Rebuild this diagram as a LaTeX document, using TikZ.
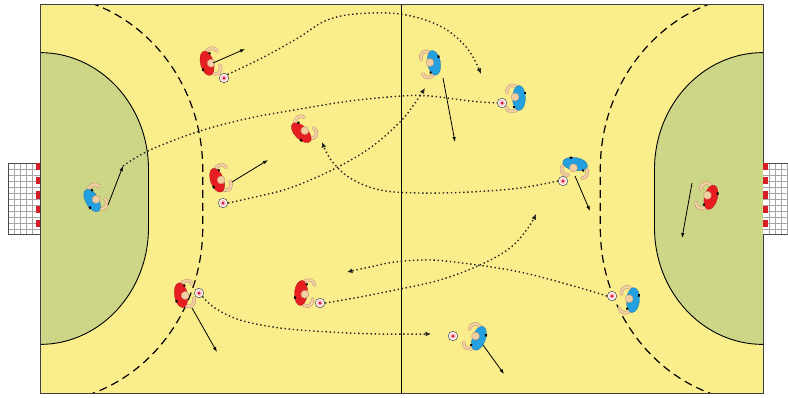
\documentclass[tikz,border=0pt]{standalone}
\usetikzlibrary{arrows.meta}

\definecolor{court}{RGB}{250,237,140}
\definecolor{goalarea}{RGB}{204,214,134}
\definecolor{shirtred}{RGB}{230,30,34}
\definecolor{shirtblue}{RGB}{36,160,222}
\definecolor{skin}{RGB}{242,206,164}
\definecolor{skinline}{RGB}{196,152,110}
\definecolor{postred}{RGB}{214,30,40}
\definecolor{balldot}{RGB}{200,20,70}

\tikzset{
  kit/.code={\colorlet{kitcol}{#1}},
  % top view of a player facing +x
  pics/player/.style={code={
    \draw[skinline, line width=3.4pt, line cap=round] (-1,9) .. controls (6,16) and (12,12) .. (11,5);
    \draw[skin, line width=2.4pt, line cap=round] (-1,9) .. controls (6,16) and (12,12) .. (11,5);
    \draw[skinline, line width=3.4pt, line cap=round] (-1,-9) .. controls (4,-16) and (11,-14) .. (12,-9);
    \draw[skin, line width=2.4pt, line cap=round] (-1,-9) .. controls (4,-16) and (11,-14) .. (12,-9);
    \fill[kitcol, draw=kitcol!75!black, line width=0.3pt] (-1,0) ellipse [x radius=6.5, y radius=12.5];
    \fill[black] (-7.5,4) rectangle (-5.5,6.5);
    \fill[black] (3,-10) rectangle (5,-8);
    \fill[skin, draw=skinline, line width=0.4pt] (3,1) circle [radius=4];
  }},
  ball/.style={circle, minimum size=9.5pt, inner sep=0pt, draw=black!75, line width=0.5pt, fill=white,
    path picture={
      \fill[pink] (path picture bounding box.center) circle [radius=3pt];
      \fill[balldot] (path picture bounding box.center) circle [radius=1.5pt];}},
  pass/.style={black!85, line width=1.4pt, dash pattern=on 1.4pt off 2.7pt,
    -{Latex[length=5.5pt,width=5pt]}},
  passplain/.style={black!85, line width=1.4pt, dash pattern=on 1.4pt off 2.7pt},
  run/.style={black, line width=0.8pt, -{Latex[length=5pt,width=3.5pt]}},
  nineline/.style={black, line width=1.2pt, dash pattern=on 8pt off 5pt},
  netline/.style={gray!70, line width=0.4pt},
}

\begin{document}
\begin{tikzpicture}[x=1pt, y=-1pt]
  \useasboundingbox (0,0) rectangle (788,397);

  % playing surface
  \fill[court] (40,4) rectangle (763,393);

  % goal areas
  \fill[goalarea] (40,52.6) arc[start angle=-90, end angle=0, x radius=108.5, y radius=116.7]
    -- (148.5,227.7) arc[start angle=0, end angle=90, x radius=108.5, y radius=116.7] -- cycle;
  \draw[black, line width=0.9pt] (40,52.6) arc[start angle=-90, end angle=0, x radius=108.5, y radius=116.7]
    -- (148.5,227.7) arc[start angle=0, end angle=90, x radius=108.5, y radius=116.7];
  \fill[goalarea] (763,52.6) arc[start angle=-90, end angle=-180, x radius=108.5, y radius=116.7]
    -- (654.5,227.7) arc[start angle=180, end angle=90, x radius=108.5, y radius=116.7] -- cycle;
  \draw[black, line width=0.9pt] (763,52.6) arc[start angle=-90, end angle=-180, x radius=108.5, y radius=116.7]
    -- (654.5,227.7) arc[start angle=180, end angle=90, x radius=108.5, y radius=116.7];

  % free-throw lines
  \begin{scope}
    \clip (40,4) rectangle (763,393);
    \draw[nineline] (40,-5.7) arc[start angle=-90, end angle=0, x radius=162.7, y radius=175]
      -- (202.7,227.7) arc[start angle=0, end angle=90, x radius=162.7, y radius=175];
    \draw[nineline] (763,-5.7) arc[start angle=-90, end angle=-180, x radius=162.7, y radius=175]
      -- (600.3,227.7) arc[start angle=180, end angle=90, x radius=162.7, y radius=175];
  \end{scope}

  % centre line and boundary
  \draw[black, line width=0.8pt] (401.5,4) -- (401.5,393);
  \draw[black!75, line width=1pt] (40,4) rectangle (763,393);

  % goals
  \fill[white] (8,163) rectangle (40,234);
  \foreach \x in {14,20,26,32} \draw[netline] (\x,163) -- (\x,234);
  \foreach \y in {169,175,...,229} \draw[netline] (8,\y) -- (40,\y);
  \draw[black!70, line width=0.6pt] (40,163) -- (8,163) -- (8,234) -- (40,234);
  \foreach \k in {0,2,...,8} \fill[postred] (35.5,163+7.1*\k) rectangle (40,170.1+7.1*\k);

  \fill[white] (763,163) rectangle (790,234);
  \foreach \x in {769,775,781,787} \draw[netline] (\x,163) -- (\x,234);
  \foreach \y in {169,175,...,229} \draw[netline] (763,\y) -- (790,\y);
  \draw[black!70, line width=0.6pt] (763,163) -- (790,163) (763,234) -- (790,234);
  \foreach \k in {0,2,...,8} \fill[postred] (763,163+7.1*\k) rectangle (767.5,170.1+7.1*\k);

  % players
  \coordinate (r1) at (208,63);
  \coordinate (r2) at (302,132);
  \coordinate (r3) at (218,180);
  \coordinate (r4) at (182,295);
  \coordinate (r5) at (302,293);
  \coordinate (r6) at (710,197);
  \coordinate (b1) at (93,200);
  \coordinate (b2) at (433,63);
  \coordinate (b3) at (518,98);
  \coordinate (b4) at (575,165);
  \coordinate (b5) at (632,300);
  \coordinate (b6) at (478,338);

  \pic[kit=shirtred, rotate=15] at (r1) {player};
  \pic[kit=shirtred, rotate=45] at (r2) {player};
  \pic[kit=shirtred, rotate=20] at (r3) {player};
  \pic[kit=shirtred, rotate=10] at (r4) {player};
  \pic[kit=shirtred, rotate=-5] at (r5) {player};
  \pic[kit=shirtred, rotate=165] at (r6) {player};
  \pic[kit=shirtblue, rotate=30] at (b1) {player};
  \pic[kit=shirtblue, rotate=190] at (b2) {player};
  \pic[kit=shirtblue, rotate=180] at (b3) {player};
  \pic[kit=shirtblue, rotate=-100] at (b4) {player};
  \pic[kit=shirtblue, rotate=175] at (b5) {player};
  \pic[kit=shirtblue, rotate=160] at (b6) {player};

  % balls
  \node[ball] (ball-r1) at (224,78) {};
  \node[ball] (ball-r3) at (223,203) {};
  \node[ball] (ball-r4) at (199,293) {};
  \node[ball] (ball-r5) at (320,303) {};
  \node[ball] (ball-b3) at (502,103) {};
  \node[ball] (ball-b4) at (563,181) {};
  \node[ball] (ball-b5) at (612,296) {};
  \node[ball] (ball-b6) at (453,336) {};

  % targets of passes and runs
  \coordinate (t1) at (481,74);
  \coordinate (gk) at (123,166);
  \coordinate (t3) at (425,88);
  \coordinate (t4) at (322,142);
  \coordinate (t5) at (431,334);
  \coordinate (t6) at (536,214);
  \coordinate (t7) at (347,272);

  % passes
  \draw[pass] plot[smooth, tension=0.6] coordinates
    {(ball-r1.north east) (262,58) (298,38) (325,21) (355,14) (400,14) (440,26) (467,48) (t1)};
  \draw[passplain] plot[smooth, tension=0.6] coordinates
    {(gk) (150,150) (200,131) (250,118) (300,109) (350,101) (402,96) (430,96) (470,101) (ball-b3.west)};
  \draw[pass] plot[smooth, tension=0.6] coordinates
    {(ball-r3.east) (255,197) (290,188) (332,170) (370,148) (400,122) (415,103) (t3)};
  \draw[pass] plot[smooth, tension=0.6] coordinates
    {(ball-b4.west) (520,188) (470,192) (420,193) (380,190) (350,178) (331,160) (t4)};
  \draw[pass] plot[smooth, tension=0.6] coordinates
    {(ball-r4.south east) (215,308) (240,320) (280,328) (330,332) (380,334) (t5)};
  \draw[pass] plot[smooth, tension=0.6] coordinates
    {(ball-r5.east) (360,297) (400,289) (440,280) (480,265) (510,248) (528,228) (t6)};
  \draw[pass] plot[smooth, tension=0.6] coordinates
    {(ball-b5.west) (570,285) (520,272) (470,264) (430,260) (395,262) (370,267) (t7)};

  % runs
  \coordinate (s-r1) at (213,63);   \coordinate (e-r1) at (245,49);
  \coordinate (s-r3) at (232,182);  \coordinate (e-r3) at (268,160);
  \coordinate (s-r4) at (192,308);  \coordinate (e-r4) at (217,352);
  \coordinate (s-b1) at (108,205);
  \coordinate (s-b2) at (443,78);   \coordinate (e-b2) at (455,142);
  \coordinate (s-b4) at (575,176);  \coordinate (e-b4) at (590,211);
  \coordinate (s-b6) at (483,345);  \coordinate (e-b6) at (504,374);
  \coordinate (s-r6) at (692,183);  \coordinate (e-r6) at (682,238);

  \draw[run] (s-r1) -- (e-r1);
  \draw[run] (s-r3) -- (e-r3);
  \draw[run] (s-r4) -- (e-r4);
  \draw[run] (s-b1) -- (gk);
  \draw[run] (s-b2) -- (e-b2);
  \draw[run] (s-b4) -- (e-b4);
  \draw[run] (s-b6) -- (e-b6);
  \draw[run] (s-r6) -- (e-r6);
\end{tikzpicture}
\end{document}
